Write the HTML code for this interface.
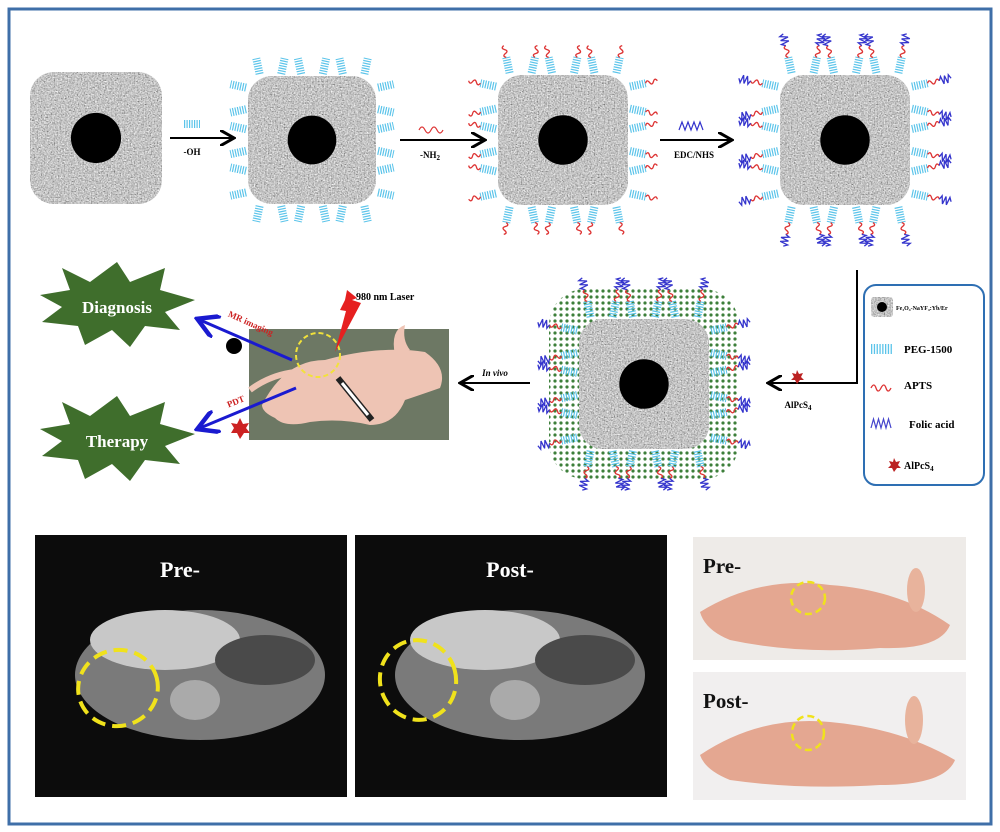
<!DOCTYPE html>
<html><head><meta charset="utf-8"><style>
body{margin:0;background:#fff;}
svg{display:block;font-family:"Liberation Serif",serif;}
</style></head><body>
<svg id="s" width="1000" height="832" viewBox="0 0 1000 832" xmlns="http://www.w3.org/2000/svg">
<defs>
<filter id="noise" x="0" y="0" width="100%" height="100%">
<feTurbulence type="fractalNoise" baseFrequency="0.7" numOctaves="2" seed="3"/>
<feColorMatrix type="matrix" values="0.6 0.6 0.6 0 -0.35  0.6 0.6 0.6 0 -0.35  0.6 0.6 0.6 0 -0.35  0 0 0 0 1"/>
<feComposite operator="in" in2="SourceGraphic"/>
</filter>
<pattern id="gd" width="6" height="6" patternUnits="userSpaceOnUse"><circle cx="3" cy="3" r="1.6" fill="#3d7f3a"/></pattern>
<marker id="ah" markerWidth="8" markerHeight="8" refX="6" refY="4" orient="auto"><path d="M0,0 L7,4 L0,8" fill="none" stroke="#000" stroke-width="1.5"/></marker>
<marker id="ab" markerWidth="8" markerHeight="8" refX="6" refY="4" orient="auto"><path d="M0,0 L7,4 L0,8" fill="none" stroke="#1a1ad0" stroke-width="1.5"/></marker>
</defs>
<rect x="9" y="9" width="982" height="815" fill="none" stroke="#3f6fa8" stroke-width="3"/>
<g id="parts"></g>

<g stroke="#000" stroke-width="2" marker-end="url(#ah)">
<line x1="170" y1="138" x2="232" y2="138"/>
<line x1="400" y1="140" x2="483" y2="140"/>
<line x1="660" y1="140" x2="730" y2="140"/>
<polyline points="857,270 857,383 770,383" fill="none"/>
<line x1="530" y1="383" x2="462" y2="383"/>
</g>
<g font-size="9" font-weight="bold" text-anchor="middle">
<text x="192" y="155">-OH</text>
<text x="430" y="158">-NH<tspan font-size="7" dy="2">2</tspan></text>
<text x="694" y="158">EDC/NHS</text>
<text x="798" y="408">AlPcS<tspan font-size="7" dy="2">4</tspan></text>
<text x="495" y="376" font-style="italic">In vivo</text>
</g>
<path d="M184,124 h16" stroke="#5bc4ea" stroke-width="8" stroke-dasharray="1.2 1.3"/>
<path d="M419,130 q3,-6 6,0 t6,0 t6,0 t6,0" stroke="#d33" fill="none" stroke-width="1.2"/>
<path d="M679,130 l3,-8 l3,8 l3,-8 l3,8 l3,-8 l3,8 l3,-8 l3,8" stroke="#33c" fill="none" stroke-width="1.2"/>
<polygon points="797,370 799,374 803,373 801,377 804,380 800,380 797,384 795,380 791,380 794,377 792,373 796,374" fill="#b22"/>

<rect x="864" y="285" width="120" height="200" rx="12" fill="#fff" stroke="#2e6fb3" stroke-width="2"/>
<rect x="871" y="297" width="22" height="20" rx="3" fill="#888" filter="url(#noise)"/>
<circle cx="882" cy="307" r="5" fill="#000"/>
<text x="896" y="310" font-size="6" font-weight="bold">Fe₃O₄-NaYF₄:Yb/Er</text>
<path d="M871,349 h22" stroke="#5bc4ea" stroke-width="10" stroke-dasharray="1.3 1.5"/>
<text x="904" y="353" font-size="11" font-weight="bold">PEG-1500</text>
<path d="M871,388 q3,-6 5,0 t5,0 t5,0 t5,0" stroke="#d33" fill="none" stroke-width="1.3"/>
<text x="904" y="389" font-size="11" font-weight="bold">APTS</text>
<path d="M871,428 l2.5,-9 l2.5,9 l2.5,-9 l2.5,9 l2.5,-9 l2.5,9 l2.5,-9 l2.5,9" stroke="#44c" fill="none" stroke-width="1.2"/>
<text x="909" y="428" font-size="11" font-weight="bold">Folic acid</text>
<polygon points="894,458 896,462 900,461 898,465 901,468 897,468 894,472 892,468 888,468 891,465 889,461 893,462" fill="#b22"/>
<text x="904" y="469" font-size="10" font-weight="bold">AlPcS<tspan font-size="7" dy="2">4</tspan></text>

<rect x="249" y="329" width="200" height="111" fill="#6d7864"/>
<path d="M262,405 Q285,360 325,360 Q380,345 425,352 Q448,368 440,388 Q420,395 405,400 Q395,425 370,425 Q340,418 310,422 Q285,428 275,418 Q262,412 262,405Z" fill="#eec4b4"/>
<path d="M250,390 Q270,375 295,372" stroke="#eec4b4" stroke-width="6" fill="none"/>
<path d="M395,355 Q390,330 405,325 Q402,340 410,350Z" fill="#eec4b4"/>
<circle cx="318" cy="355" r="22" fill="none" stroke="#f2e23a" stroke-width="2" stroke-dasharray="5 3"/>
<polygon points="347,290 357,298 352,300 361,303 335,352 346,311 340,310 345,300" fill="#e62020"/>
<text x="356" y="300" font-size="10" font-weight="bold">980 nm Laser</text>
<line x1="338" y1="378" x2="372" y2="420" stroke="#222" stroke-width="6"/>
<line x1="342" y1="383" x2="368" y2="415" stroke="#fff" stroke-width="3"/>
<g stroke="#1a1ad0" stroke-width="3" marker-end="url(#ab)">
<line x1="292" y1="360" x2="200" y2="320"/>
<line x1="296" y1="388" x2="200" y2="428"/>
</g>
<text x="225" y="322" font-size="9" font-weight="bold" fill="#c22" transform="rotate(24 240 325)">MR imaging</text>
<text x="228" y="405" font-size="9" font-weight="bold" fill="#c22" transform="rotate(-22 235 405)">PDT</text>
<circle cx="234" cy="346" r="8" fill="#000"/>
<polygon points="240,418 243,424 249,423 246,428 250,433 244,433 240,439 237,433 231,433 234,428 231,423 237,424" fill="#c22"/>
<polygon points="62,268 90,282 117,262 130,282 165,268 160,290 195,300 165,312 180,330 145,326 130,347 112,330 85,345 78,326 42,322 62,307 40,295 70,290" fill="#3f6e2c"/>
<text x="117" y="313" font-size="17" font-weight="bold" fill="#fff" text-anchor="middle">Diagnosis</text>
<polygon points="62,402 90,416 117,396 130,416 165,402 160,424 195,434 165,446 180,464 145,460 130,481 112,464 85,479 78,460 42,456 62,441 40,429 70,424" fill="#3f6e2c"/>
<text x="117" y="447" font-size="17" font-weight="bold" fill="#fff" text-anchor="middle">Therapy</text>

<g>
<rect x="35" y="535" width="312" height="262" fill="#0c0c0c"/>
<ellipse cx="200" cy="675" rx="125" ry="65" fill="#7a7a7a"/>
<ellipse cx="165" cy="640" rx="75" ry="30" fill="#c8c8c8"/>
<ellipse cx="265" cy="660" rx="50" ry="25" fill="#4a4a4a"/>
<ellipse cx="195" cy="700" rx="25" ry="20" fill="#aaa"/>
<ellipse cx="118" cy="688" rx="40" ry="38" fill="none" stroke="#f0e21c" stroke-width="4" stroke-dasharray="14 7" transform="rotate(-15 118 688)"/>
<text x="180" y="577" font-size="22" font-weight="bold" fill="#fff" text-anchor="middle">Pre-</text>
<rect x="355" y="535" width="312" height="262" fill="#0c0c0c"/>
<ellipse cx="520" cy="675" rx="125" ry="65" fill="#7a7a7a"/>
<ellipse cx="485" cy="640" rx="75" ry="30" fill="#c8c8c8"/>
<ellipse cx="585" cy="660" rx="50" ry="25" fill="#4a4a4a"/>
<ellipse cx="515" cy="700" rx="25" ry="20" fill="#aaa"/>
<ellipse cx="418" cy="680" rx="38" ry="40" fill="none" stroke="#f0e21c" stroke-width="4" stroke-dasharray="14 7" transform="rotate(-15 418 680)"/>
<text x="510" y="577" font-size="22" font-weight="bold" fill="#fff" text-anchor="middle">Post-</text>
</g>
<rect x="693" y="537" width="273" height="123" fill="#eeebe8"/>
<path d="M700,612 Q760,575 830,585 Q900,590 950,625 Q940,650 880,648 Q800,655 730,640 Q705,630 700,612Z" fill="#e4a791"/>
<ellipse cx="916" cy="590" rx="9" ry="22" fill="#e8b39c"/>
<ellipse cx="808" cy="598" rx="17" ry="16" fill="none" stroke="#f0e21c" stroke-width="2.5" stroke-dasharray="7 4"/>
<text x="703" y="573" font-size="21" font-weight="bold" fill="#111">Pre-</text>
<rect x="693" y="672" width="273" height="128" fill="#f1efef"/>
<path d="M700,755 Q760,715 830,722 Q900,728 955,760 Q945,785 880,785 Q800,790 730,780 Q705,770 700,755Z" fill="#e4a791"/>
<ellipse cx="914" cy="720" rx="9" ry="24" fill="#e8b39c"/>
<ellipse cx="808" cy="733" rx="16" ry="17" fill="none" stroke="#f0e21c" stroke-width="2.5" stroke-dasharray="7 4"/>
<text x="703" y="708" font-size="21" font-weight="bold" fill="#111">Post-</text>
</svg>
<script>
var NS="http://www.w3.org/2000/svg",g=document.getElementById("parts");
function el(t,a){var e=document.createElementNS(NS,t);for(var k in a)e.setAttribute(k,a[k]);g.appendChild(e);return e;}
function part(cx,cy,s,lv){
 var h=s/2;
 if(lv>=4){el("rect",{x:cx-h-30,y:cy-h-30,width:s+60,height:s+60,rx:36,fill:"url(#gd)"});}
 if(lv>=1){
  for(var side=0;side<4;side++){
   for(var i=0;i<6;i++){
    var t=-h+12+i*(s-24)/5, x,y,a;
    if(side==0){x=cx+t;y=cy-h;a=-90;}
    if(side==1){x=cx+h;y=cy+t;a=0;}
    if(side==2){x=cx-t;y=cy+h;a=90;}
    if(side==3){x=cx-h;y=cy-t;a=180;}
    var gr=document.createElementNS(NS,"g");gr.setAttribute("transform","translate("+x+","+y+") rotate("+(a+(i%2?12:-12))+")");g.appendChild(gr);
    var p=document.createElementNS(NS,"path");p.setAttribute("d","M2,0 h16");p.setAttribute("stroke","#5bc4ea");p.setAttribute("stroke-width","8");p.setAttribute("stroke-dasharray","1.2 1.3");gr.appendChild(p);
    if(lv>=2){var q=document.createElementNS(NS,"path");q.setAttribute("d","M18,0 q2,-4 4,0 t4,0 t4,0");q.setAttribute("stroke","#d33");q.setAttribute("fill","none");q.setAttribute("stroke-width","1.3");gr.appendChild(q);}
    if(lv>=3){var r=document.createElementNS(NS,"path");r.setAttribute("d","M30,0 l2,-4 l2,8 l2,-8 l2,8 l2,-8 l2,4");r.setAttribute("stroke","#33c");r.setAttribute("fill","none");r.setAttribute("stroke-width","1.3");gr.appendChild(r);}
   }
  }
 }
 el("rect",{x:cx-h,y:cy-h,width:s,height:s,rx:24,fill:"#888",filter:"url(#noise)"});
 el("circle",{cx:cx,cy:cy,r:s*0.19,fill:"#000"});
}
part(96,138,132,0);
part(312,140,128,1);
part(563,140,130,2);
part(845,140,130,3);
part(644,384,130,4);
</script>
</body></html>
